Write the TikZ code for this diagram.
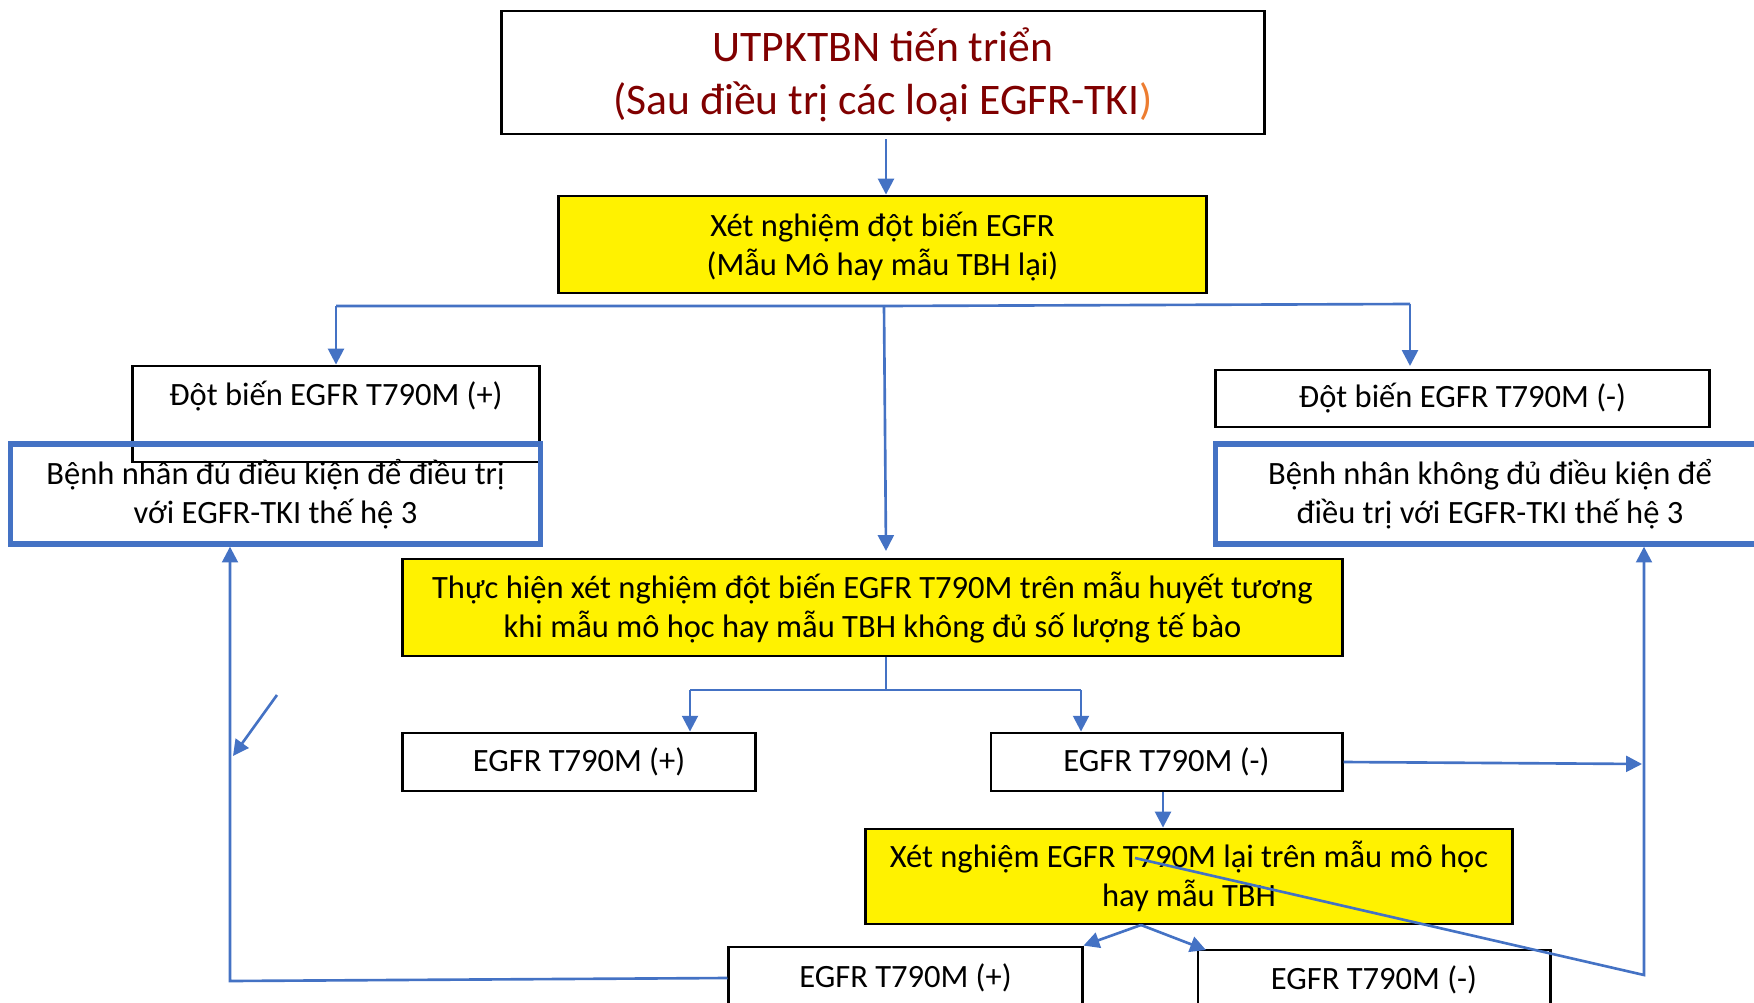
\documentclass[tikz,border=0pt]{standalone}
\usepackage{fontspec}
\setmainfont{Carlito}
\usetikzlibrary{arrows.meta,calc}
\definecolor{lineblue}{HTML}{4472C4}
\definecolor{titlered}{RGB}{128,0,0}
\definecolor{parenorange}{HTML}{ED7D31}
\newcommand\bodyfont{\fontsize{9.25}{11.1}\selectfont}
\newcommand\titlefont{\fontsize{12.4}{15}\selectfont}
\begin{document}
\begin{tikzpicture}[x=0.01cm,y=-0.01cm,
  box/.style={draw=black, line width=0.8pt, inner sep=0pt, align=center, font=\bodyfont},
  ybox/.style={box, fill=yellow},
  bbox/.style={draw=lineblue, line width=1.5pt, inner sep=0pt, align=center, font=\bodyfont},
  txt/.style={inner sep=0pt, align=center, font=\bodyfont},
  conn/.style={draw=lineblue, line width=0.75pt},
  arr/.style={conn, -{Triangle[length=4.5pt,width=4.5pt]}},
]
\useasboundingbox (0,0) rectangle (1754,1003);

% boxes
\node[box, minimum width=7.62cm, minimum height=1.23cm, font=\titlefont, text=titlered]
  (title) at (883,72.5) {};
\node[txt, font=\titlefont, text=titlered] (titletext) at (883,75)
  {UTPKTBN tiến triển\\(Sau điều trị các loại EGFR-TKI\textcolor{parenorange}{)}};
\node[ybox, minimum width=6.47cm, minimum height=0.97cm] (test) at (882.5,244.5) {};
\node[txt] (testtext) at (882.5,246.5) {Xét nghiệm đột biến EGFR\\(Mẫu Mô hay mẫu TBH lại)};

\node[box, minimum width=4.06cm, minimum height=0.96cm] (posA) at (336,414) {};
\node[txt] (posAtext) at (336,396) {Đột biến EGFR T790M (+)};
\node[bbox, minimum width=5.29cm, minimum height=1.00cm] (eligible) at (275.5,494) {};
\node[txt] (eligibletext) at (275.5,494)
  {Bệnh nhân đủ điều kiện để điều trị\\với EGFR-TKI thế hệ 3};

\node[box, minimum width=4.93cm, minimum height=0.57cm] (negA) at (1462.5,398.5) {Đột biến EGFR T790M (-)};
\node[bbox, minimum width=5.48cm, minimum height=1.00cm] (noteligible) at (1490,494) {};
\node[txt] (noteligibletext) at (1490,494)
  {Bệnh nhân không đủ điều kiện để\\điều trị với EGFR-TKI thế hệ 3};

\node[ybox, minimum width=9.39cm, minimum height=0.97cm] (plasma) at (872.5,607.5)
  {Thực hiện xét nghiệm đột biến EGFR T790M trên mẫu huyết tương\\khi mẫu mô học hay mẫu TBH không đủ số lượng tế bào};

\node[box, minimum width=3.52cm, minimum height=0.58cm] (posB) at (579,762) {EGFR T790M (+)};
\node[box, minimum width=3.51cm, minimum height=0.58cm] (negB) at (1166.5,762) {EGFR T790M (-)};

\node[ybox, minimum width=6.46cm, minimum height=0.95cm] (retest) at (1189,876.5)
  {Xét nghiệm EGFR T790M lại trên mẫu mô học\\hay mẫu TBH};

\node[box, minimum width=3.53cm, minimum height=0.70cm] (posC) at (905.5,982) {};
\node[txt] (posCtext) at (905.5,978) {EGFR T790M (+)};
\node[box, minimum width=3.52cm, minimum height=0.67cm] (negC) at (1374,983.5) {};
\node[txt] (negCtext) at (1374,980) {EGFR T790M (-)};

% connector points
\coordinate (split) at (884,306);
\coordinate (splitL) at (336,306);
\coordinate (splitR) at (1410,304);
\coordinate (tipR) at (1410,366);
\coordinate (tipM) at (886,551);
\coordinate (split2) at (886,690);
\coordinate (s2L) at (690,690);
\coordinate (s2R) at (1081,690);
\coordinate (forkC) at (1141,925);
\coordinate (tipNegC) at (1206,950);
\coordinate (leftbus) at (230,981);
\coordinate (rightbus) at (1642,764);
\coordinate (crossA) at (1135,858);
\coordinate (rbot) at (1644,975);
\coordinate (slashA) at (277,695);
\coordinate (slashB) at (233,756);

% connectors
\draw[arr, shorten <=0.04cm] (title.south -| split2) -- (test.north -| split2);
\draw[conn] (splitL) -- (split) -- (splitR);
\draw[arr] (splitL) -- (posA.north);
\draw[arr] (splitR) -- (tipR);
\draw[arr] (split) -- (tipM);

\draw[conn] (plasma.south -| split2) -- (split2);
\draw[conn] (s2L) -- (s2R);
\draw[arr] (s2L) -- (s2L |- posB.north);
\draw[arr] (s2R) -- (s2R |- negB.north);

\draw[arr] (negB.east) -- (rightbus);
\draw[arr] (negB.south -| 1163,0) -- (retest.north -| 1163,0);

\draw[arr] (forkC) -- (posC.north east);
\draw[arr] (forkC) -- (tipNegC);

\draw[arr] (posC.west |- posCtext) -- (leftbus) -- (leftbus |- eligible.south);
\draw[arr] (slashA) -- (slashB);
\draw[arr] (crossA) -- (rbot) -- (rbot |- noteligible.south);
\end{tikzpicture}
\end{document}
